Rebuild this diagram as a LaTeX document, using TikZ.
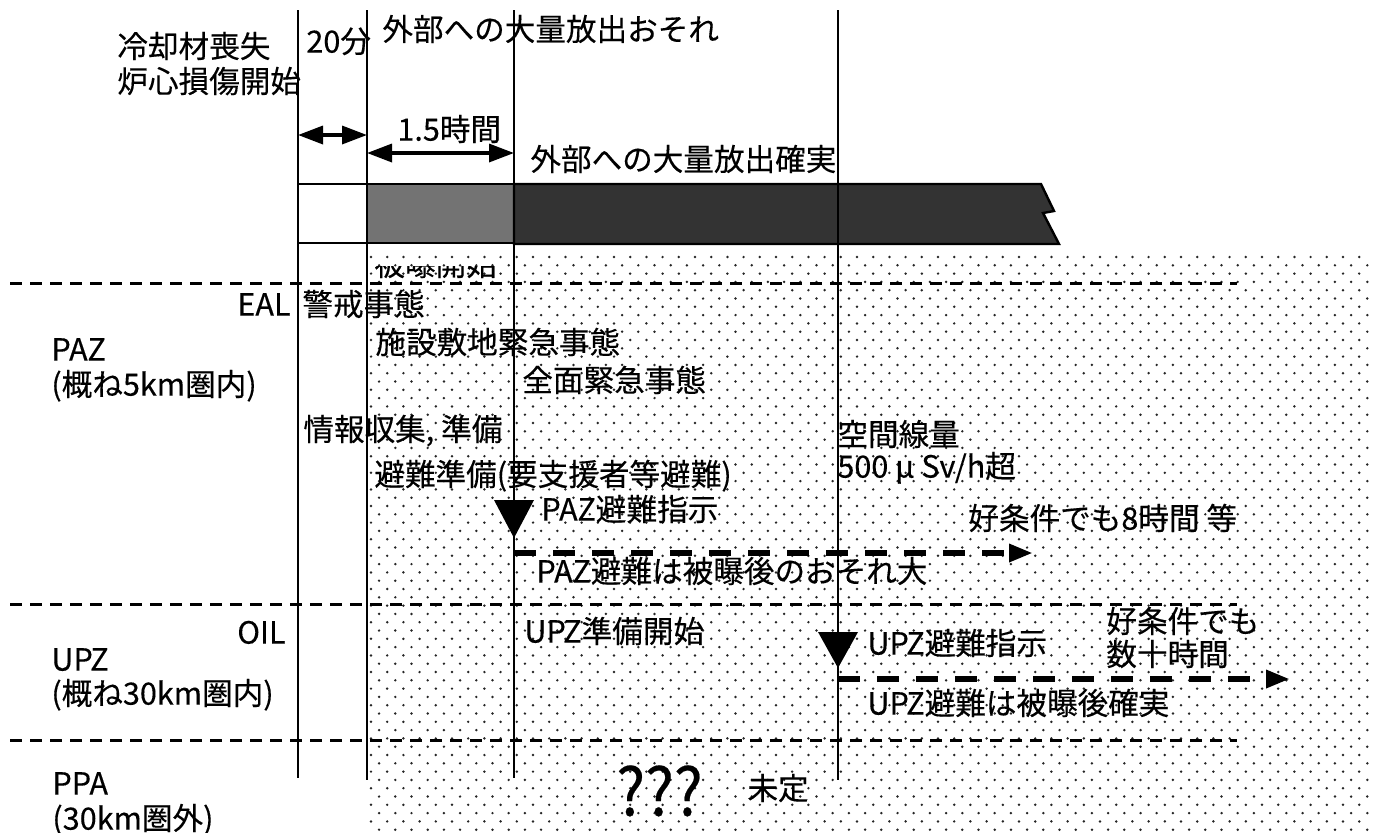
\documentclass[tikz,border=0pt]{standalone}
\usepackage{fontspec}
\setmainfont[FakeBold=0.3]{Noto Sans CJK JP}
\usetikzlibrary{arrows.meta}
\tikzset{
  vline/.style={line width=1.2pt},
  zoneline/.style={line width=1.5pt, dash pattern=on 6pt off 4pt},
  evac/.style={line width=3pt, dash pattern=on 11pt off 8.5pt, -{Triangle[length=12pt,width=8.5pt]}},
  spanarrow/.style={line width=1.7pt, {Triangle[length=12.5pt,width=9pt]}-{Triangle[length=12.5pt,width=9pt]}},
  lbl/.style={inner sep=0pt, anchor=west, text height=0.88em, text depth=0.12em, font=\fontsize{15.3pt}{18pt}\selectfont},
  lblr/.style={lbl, anchor=east},
  trimark/.style={fill=black},
}
\begin{document}
\begin{tikzpicture}[x=0.5pt,y=-0.5pt]
\useasboundingbox (0,0) rectangle (1374,832);
% dotted background
\foreach \j in {0,...,69} {
  \pgfmathsetmacro{\yy}{257+8.3*\j}
  \pgfmathsetmacro{\xo}{371+8.1*mod(\j,2)}
  \fill[black!85] \foreach \i in {0,...,61} { ({\xo+16.2*\i},\yy) circle[radius=0.68pt] };
}
% bar
\draw[vline, fill=white] (298,184) rectangle (367,243);
\draw[vline, fill=black!55] (367,184) rectangle (514,243);
\draw[vline, fill=black!80] (514,184) -- (1041,184) -- (1054,211) -- (1043,213) -- (1059,244) -- (514,244) -- cycle;
% zone lines
\coordinate (z1a) at (10,283); \coordinate (z1b) at (1237,283);
\coordinate (z2a) at (10,604); \coordinate (z2b) at (1237,604);
\coordinate (z3a) at (10,740); \coordinate (z3b) at (1237,740);
\draw[zoneline] (z1a) -- (z1b);
\draw[zoneline] (z2a) -- (z2b);
\draw[zoneline] (z3a) -- (z3b);
% vertical lines
\coordinate (v1t) at (298,10); \coordinate (v1b) at (298,778);
\coordinate (v2t) at (367,10); \coordinate (v2b) at (367,780);
\coordinate (v3t) at (514,10); \coordinate (v3b) at (514,778);
\coordinate (v4t) at (838,10); \coordinate (v4b) at (838,780);
\draw[vline] (v1t) -- (v1b);
\draw[vline] (v2t) -- (v2b);
\draw[vline] (v3t) -- (v3b);
\draw[vline] (v4t) -- (v4b);
% span arrows
\coordinate (s1a) at (298,135); \coordinate (s1b) at (367,135);
\coordinate (s2a) at (367,153); \coordinate (s2b) at (514,153);
\draw[spanarrow] (s1a) -- (s1b);
\draw[spanarrow] (s2a) -- (s2b);
% triangles
\fill[trimark] (494,500) -- (534,500) -- (514,538) -- cycle;
\fill[trimark] (818,632) -- (858,632) -- (838,668) -- cycle;
% evacuation arrows
\coordinate (e1a) at (514,553); \coordinate (e1b) at (1033,553);
\coordinate (e2a) at (838,679); \coordinate (e2b) at (1290,679);
\draw[evac] (e1a) -- (e1b);
\draw[evac] (e2a) -- (e2b);
% texts
\node[lbl] (t1) at (117,50) {冷却材喪失};
\node[lbl] (t2) at (117,85) {炉心損傷開始};
\node[lbl] (t20) at (306,45) {20分};
\node[lbl] (tout) at (382,33) {外部への大量放出おそれ};
\node[lbl] (t15) at (397,133) {1.5時間};
\node[lbl] (tcert) at (530,163) {外部への大量放出確実};
\begin{scope}
\clip (367,266) rectangle (514,283);
\node[lbl] (thidden) at (374,268) {被曝開始};
\end{scope}
\node[lblr] (teal) at (291,308) {EAL};
\node[lbl] (tkei) at (302,308) {警戒事態};
\node[lbl] (tpaz) at (51,353) {PAZ};
\node[lbl] (tpaz2) at (51,388) {(概ね5km圏内)};
\node[lbl] (tshi) at (375,346) {施設敷地緊急事態};
\node[lbl] (tzen) at (522,384) {全面緊急事態};
\node[lbl] (tkuk) at (837,438) {空間線量};
\node[lbl] (t500) at (837,470) {500 μ Sv/h超};
\node[lbl] (tjoh) at (303,433) {情報収集, 準備};
\node[lbl] (thin) at (374,478) {避難準備(要支援者等避難)};
\node[lbl] (tpazs) at (541,513) {PAZ避難指示};
\node[lbl] (tgood1) at (968,522) {好条件でも8時間 等};
\node[lbl] (tpazh) at (536,575) {PAZ避難は被曝後のおそれ大};
\node[lblr] (toil) at (286,636) {OIL};
\node[lbl] (tupz) at (51,663) {UPZ};
\node[lbl] (tupz2) at (51,697) {(概ね30km圏内)};
\node[lbl] (tupzj) at (524,635) {UPZ準備開始};
\node[lbl] (tupzs) at (867,647) {UPZ避難指示};
\node[lbl] (tgood2) at (1106,625) {好条件でも};
\node[lbl] (tgood3) at (1106,658) {数十時間};
\node[lbl] (tupzh) at (867,707) {UPZ避難は被曝後確実};
\node[lbl] (tppa) at (52,787) {PPA};
\node[lbl] (tppa2) at (52,822) {(30km圏外)};
\node[lbl, font=\fontsize{33pt}{38pt}\selectfont, xscale=0.92] (tq) at (616,808) {???};
\node[lbl] (tmit) at (747,792) {未定};
\end{tikzpicture}
\end{document}
